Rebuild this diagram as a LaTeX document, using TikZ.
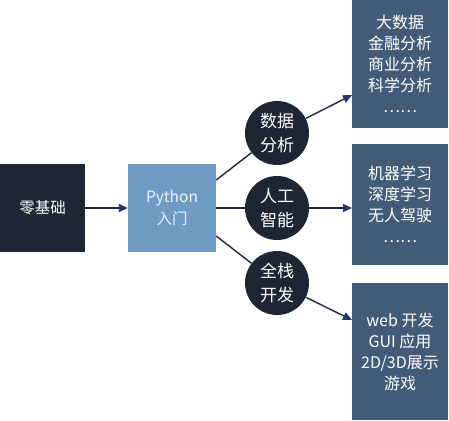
\documentclass[tikz,border=0pt]{standalone}
\usepackage{fontspec}
\setmainfont{Noto Sans CJK SC}
\usetikzlibrary{arrows.meta,backgrounds}
\definecolor{darkbox}{HTML}{1E2533}
\definecolor{pybox}{HTML}{6F9AC4}
\definecolor{slate}{HTML}{425C77}
\definecolor{linec}{HTML}{1E2A3C}
\definecolor{arrowc}{HTML}{1F3A63}
\begin{document}
\begin{tikzpicture}[x=1pt,y=-1pt,
  lbox/.style={fill=darkbox,minimum width=85pt,minimum height=88pt,inner sep=0pt,text=white,font=\fontsize{15.5}{18}\selectfont},
  pbox/.style={fill=pybox,minimum width=88pt,minimum height=88pt,inner sep=0pt,text=white!88!pybox,align=center,font=\fontsize{15.5}{22}\selectfont},
  circ/.style={circle,fill=darkbox,minimum size=64pt,inner sep=0pt,text=white,align=center,font=\fontsize{17}{24}\selectfont},
  rbox/.style={fill=slate,minimum width=96pt,inner sep=0pt,text=white,align=center,font=\fontsize{16}{21}\selectfont},
  conn/.style={draw=linec,line width=1.4pt},
  arr/.style={conn,-{Triangle[length=9pt,width=8pt,color=arrowc]}}]
\useasboundingbox (0,0) rectangle (449,420);
\node[lbox] (zero) at (42.5,208) {零基础};
\node[pbox] (py) at (172,208) {Python\\入门};
\node[circ] (c1) at (277,133) {数据\\分析};
\node[circ] (c2) at (277,208) {人工\\智能};
\node[circ] (c3) at (277,283) {全栈\\开发};
\node[rbox,minimum height=128pt] (r1) at (400,64) {大数据\\金融分析\\商业分析\\科学分析\\……};
\node[rbox,minimum height=121pt] (r2) at (400,204.5) {机器学习\\深度学习\\无人驾驶\\……};
\node[rbox,minimum height=137pt] (r3) at (400,351.5) {web 开发\\GUI 应用\\2D/3D展示\\游戏};
\coordinate (r1in) at (352,95);
\coordinate (r2in) at (352,208);
\coordinate (r3in) at (352,320);
\draw[arr] (zero.east) -- (py.west);
\begin{scope}[on background layer]
\draw[conn] (py.east |- 0,180) -- (c1);
\draw[conn] (py.east) -- (c2);
\draw[conn] (py.east |- 0,236) -- (c3);
\draw[arr] (c1) -- (r1in);
\draw[arr] (c2) -- (r2in);
\draw[arr] (c3) -- (r3in);
\end{scope}
\end{tikzpicture}
\end{document}
